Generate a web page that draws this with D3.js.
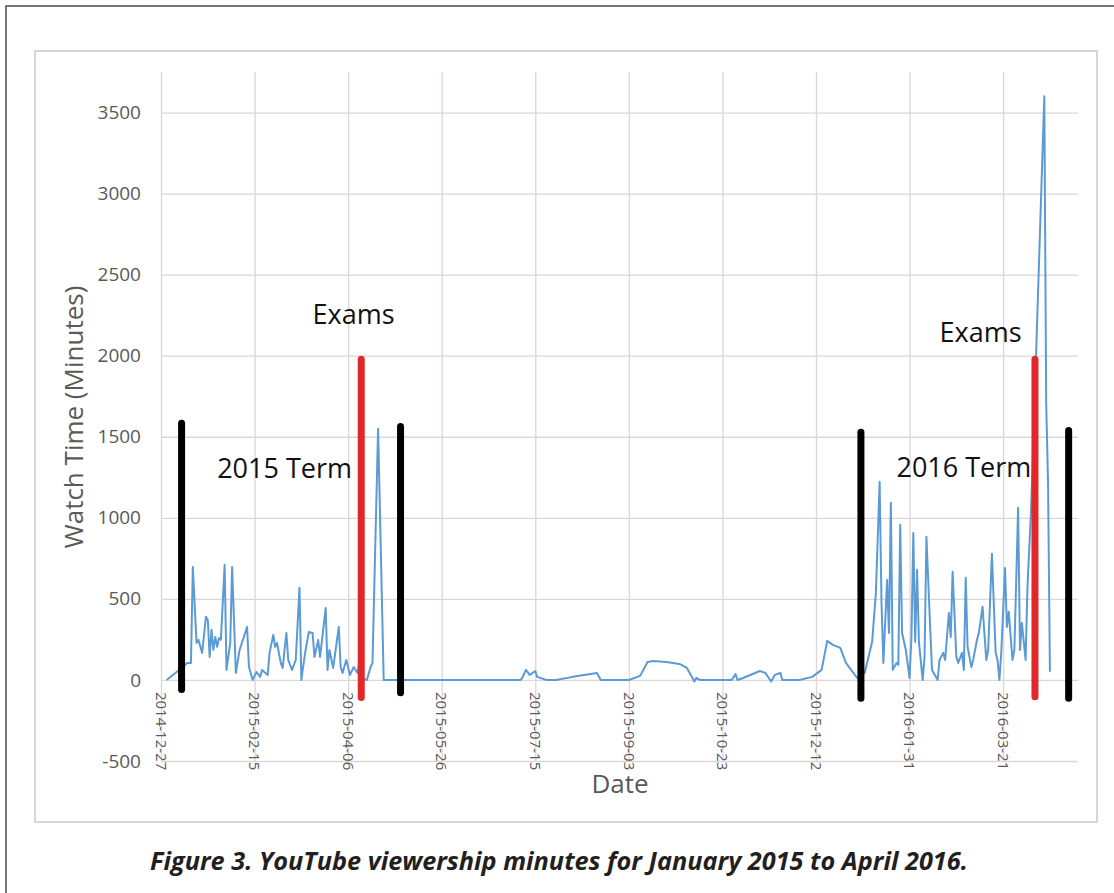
<!DOCTYPE html>
<html>
<head>
<meta charset="utf-8">
<script src="https://cdn.jsdelivr.net/npm/d3@7"></script>
<style>
  body { margin: 0; background: #fff; }
  svg text { font-family: "Open Sans", sans-serif; }
</style>
</head>
<body>
<div id="chart"></div>
<script>
// daily watch time (vertices of the line)
const dates = [
  "2014-12-30","2015-01-05","2015-01-10","2015-01-12","2015-01-13","2015-01-15","2015-01-16","2015-01-18","2015-01-20","2015-01-21",
  "2015-01-22","2015-01-23","2015-01-24","2015-01-25","2015-01-26","2015-01-27","2015-01-28","2015-01-30","2015-01-31","2015-02-02",
  "2015-02-03","2015-02-05","2015-02-07","2015-02-11","2015-02-12","2015-02-14","2015-02-16","2015-02-18","2015-02-19","2015-02-22",
  "2015-02-23","2015-02-25","2015-02-26","2015-02-27","2015-03-01","2015-03-02","2015-03-04","2015-03-05","2015-03-07","2015-03-09",
  "2015-03-11","2015-03-12","2015-03-14","2015-03-16","2015-03-18","2015-03-19","2015-03-21","2015-03-22","2015-03-25","2015-03-26",
  "2015-03-27","2015-03-29","2015-04-01","2015-04-02","2015-04-03","2015-04-05","2015-04-07","2015-04-09","2015-04-11","2015-04-12",
  "2015-04-13","2015-04-16","2015-04-18","2015-04-19","2015-04-22","2015-04-25",
  "2015-05-25","2015-06-26","2015-07-07","2015-07-08","2015-07-10","2015-07-12","2015-07-15","2015-07-16","2015-07-21","2015-07-26",
  "2015-08-04","2015-08-17","2015-08-19","2015-08-25","2015-09-03","2015-09-09","2015-09-13","2015-09-16","2015-09-23","2015-09-30",
  "2015-10-04","2015-10-07","2015-10-08","2015-10-09","2015-10-11","2015-10-22","2015-10-28","2015-10-30","2015-10-31","2015-11-03",
  "2015-11-12","2015-11-15","2015-11-18","2015-11-20","2015-11-23","2015-11-24","2015-12-03","2015-12-10","2015-12-15","2015-12-18",
  "2015-12-21","2015-12-25","2015-12-28",
  "2016-01-03","2016-01-07","2016-01-11","2016-01-13","2016-01-15","2016-01-16","2016-01-17","2016-01-19","2016-01-20","2016-01-21",
  "2016-01-22","2016-01-24","2016-01-25","2016-01-26","2016-01-27","2016-01-29","2016-01-31","2016-02-01","2016-02-02","2016-02-03",
  "2016-02-04","2016-02-05","2016-02-07","2016-02-08","2016-02-09","2016-02-11","2016-02-12","2016-02-15","2016-02-16","2016-02-18",
  "2016-02-19","2016-02-21","2016-02-22","2016-02-23","2016-02-25","2016-02-26","2016-02-28","2016-02-29","2016-03-01","2016-03-02",
  "2016-03-04","2016-03-05","2016-03-07","2016-03-08","2016-03-10","2016-03-12","2016-03-13","2016-03-15","2016-03-17","2016-03-18",
  "2016-03-19","2016-03-20","2016-03-22","2016-03-23","2016-03-24","2016-03-26","2016-03-27","2016-03-29","2016-03-30","2016-03-31",
  "2016-04-02","2016-04-03","2016-04-05","2016-04-12","2016-04-13","2016-04-14","2016-04-15"
]
const minutes = [
  0,55,105,105,697,228,247,167,390,370,
  142,309,185,265,204,259,247,710,62,228,
  697,43,185,327,80,0,49,19,62,31,
  167,278,204,228,105,74,290,123,62,123,
  568,0,167,296,290,142,247,142,444,62,
  185,74,327,80,43,123,31,80,43,111,
  12,0,80,105,1549,0,
  0,0,0,12,62,31,55,19,0,0,
  19,43,0,0,0,25,111,117,111,99,
  74,12,-10,12,0,0,0,37,0,12,
  55,43,-10,31,43,0,0,19,62,241,
  216,198,105,
  12,43,235,537,1222,475,105,617,290,1093,
  62,105,93,957,290,185,12,265,907,235,
  679,235,0,142,883,327,62,0,123,167,
  123,413,265,667,142,105,167,62,630,204,
  80,123,247,290,451,123,185,778,167,123,
  0,167,691,327,420,123,185,1062,185,352,
  123,574,1068,3600,1710,1210,50
]

const yTicks = [-500, 0, 500, 1000, 1500, 2000, 2500, 3000, 3500]
const xTicks = ["2014-12-27","2015-02-15","2015-04-06","2015-05-26","2015-07-15",
                "2015-09-03","2015-10-23","2015-12-12","2016-01-31","2016-03-21"]

// term start/end and exam markers drawn on the figure
const markerDates = ["2015-01-07","2015-04-13","2015-05-04","2016-01-05","2016-04-07","2016-04-25"]
const markerKinds = ["term","exam","term","term","exam","term"]
const markerTop = [1605, 2000, 1585, 1550, 2000, 1560]
const markerBottom = [-80, -130, -100, -135, -125, -135]

const noteText = ["Exams", "2015 Term", "2016 Term", "Exams"]
const noteDates = ["2015-03-18", "2015-01-26", "2016-01-24", "2016-02-16"]
const noteValues = [2198, 1247, 1253, 2086]

const caption = "Figure 3. YouTube viewership minutes for January 2015 to April 2016."

const W = 1114, H = 893
const plot = {left: 161, right: 1078, top: 72, bottom: 761}
const parse = d3.utcParse("%Y-%m-%d")
const grey = "#595959"
const gridColor = "#ddd6d6"

let svg = d3.select("#chart").append("svg")
    .attr("width", W).attr("height", H)

// outer frame and chart box
svg.append("rect").attr("x", 6).attr("y", 6).attr("width", 1130).attr("height", 910)
    .attr("fill", "none").attr("stroke", "#4a4a4a").attr("stroke-width", 1.5)
svg.append("rect").attr("x", 35).attr("y", 51).attr("width", 1062).attr("height", 771)
    .attr("fill", "#fff").attr("stroke", "#d6d6d6").attr("stroke-width", 2)

let scX = d3.scaleUtc().domain([parse("2014-12-27"), parse("2016-04-30")]).range([plot.left, plot.right])
let scY = d3.scaleLinear().domain([-500, 3750]).range([plot.bottom, plot.top])

// horizontal grid + y labels
let yAxis = d3.axisLeft(scY).tickValues(yTicks).tickFormat(d => String(d))
    .tickSize(-(plot.right - plot.left)).tickPadding(20)
let gy = svg.append("g").attr("transform", `translate(${plot.left},0)`).call(yAxis)
gy.select(".domain").remove()
gy.selectAll("line").attr("stroke", gridColor).attr("stroke-width", 1.3)
gy.selectAll("text").attr("fill", grey).style("font-size", "19px")

// vertical grid
let xGrid = d3.axisBottom(scX).tickValues(xTicks.map(parse)).tickSize(-(plot.bottom - plot.top)).tickFormat("")
let gx = svg.append("g").attr("transform", `translate(0,${plot.bottom})`).call(xGrid)
gx.select(".domain").remove()
gx.selectAll("line").attr("stroke", gridColor).attr("stroke-width", 1.3)

// rotated date labels just under the zero line
svg.append("g").selectAll("text")
    .data(xTicks)
    .enter()
    .append("text")
    .attr("transform", d => `translate(${scX(parse(d))},${scY(0) + 12}) rotate(90)`)
    .attr("dy", "0.35em")
    .attr("fill", grey)
    .style("font-size", "15px")
    .text(d => d)

// axis titles
svg.append("text")
    .attr("transform", "translate(83,417) rotate(-90)")
    .attr("text-anchor", "middle")
    .attr("fill", grey)
    .style("font-size", "26px")
    .text("Watch Time (Minutes)")
svg.append("text")
    .attr("x", 620).attr("y", 793)
    .attr("text-anchor", "middle")
    .attr("fill", grey)
    .style("font-size", "26px")
    .text("Date")

// the series
let series = dates.map((d, i) => ({date: parse(d), v: minutes[i]}))
let makeLine = d3.line()
    .x(d => scX(d.date))
    .y(d => scY(d.v))
svg.append("path")
    .attr("d", makeLine(series))
    .attr("fill", "none")
    .attr("stroke", "#5b9bd5")
    .attr("stroke-width", 2)
    .attr("stroke-linejoin", "round")

// term / exam bars
let markColor = {term: "#000", exam: "#e0282b"}
svg.append("g").selectAll("line")
    .data(markerDates)
    .enter()
    .append("line")
    .attr("x1", d => scX(parse(d)))
    .attr("x2", d => scX(parse(d)))
    .attr("y1", (d, i) => scY(markerTop[i]) + 3.5)
    .attr("y2", (d, i) => scY(markerBottom[i]) - 3.5)
    .attr("stroke", (d, i) => markColor[markerKinds[i]])
    .attr("stroke-width", 7)
    .attr("stroke-linecap", "round")

// annotations
svg.append("g").selectAll("text")
    .data(noteText)
    .enter()
    .append("text")
    .attr("x", (d, i) => scX(parse(noteDates[i])))
    .attr("y", (d, i) => scY(noteValues[i]))
    .attr("fill", "#111")
    .style("font-size", "27px")
    .text(d => d)

// caption, sized to span the same width as in the figure
let cap = svg.append("text")
    .attr("x", 559).attr("y", 870)
    .attr("text-anchor", "middle")
    .attr("fill", "#231f20")
    .style("font-size", "20px")
    .style("font-weight", "700")
    .style("font-style", "italic")
    .text(caption)
let capLen = cap.node().getComputedTextLength()
cap.style("font-size", (20 * 818 / capLen).toFixed(2) + "px")
</script>
</body>
</html>
